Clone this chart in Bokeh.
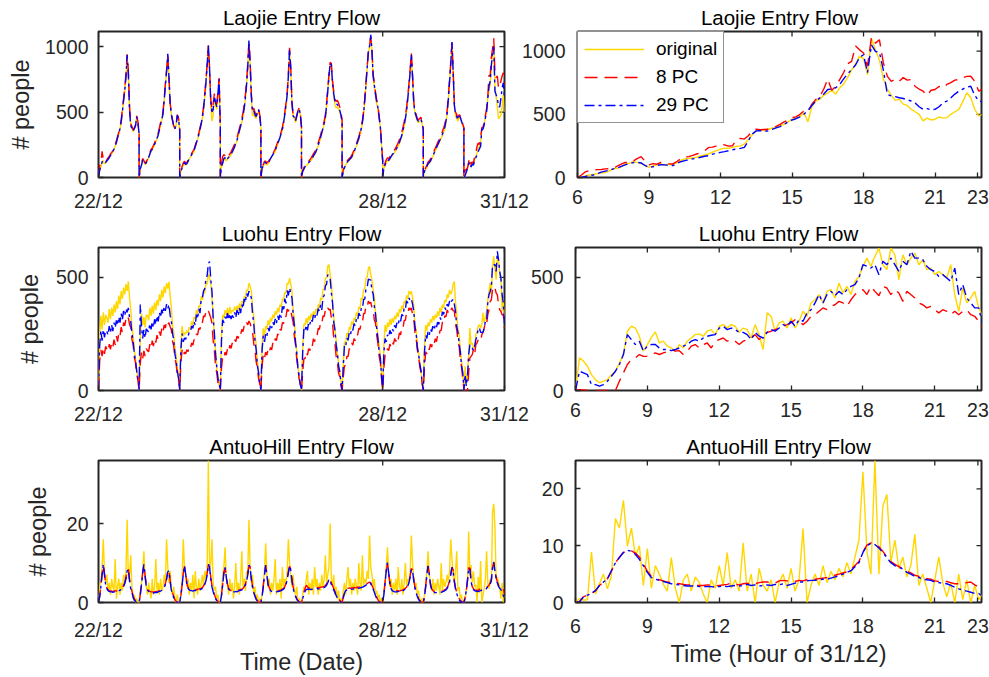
from bokeh.plotting import figure
from bokeh.layouts import column, row
from bokeh.models import Range1d, FixedTicker
from bokeh.embed import file_html
from bokeh.resources import INLINE

# ------------------------------------------------------------------ data
TITLES = ["Laojie Entry Flow", "Luohu Entry Flow", "AntuoHill Entry Flow"]
SERIES_NAMES = ["original", "8 PC", "29 PC"]
DATE_TICKS = [0, 7, 10]                     # day index (22/12 = day 0)
DATE_LABELS = ["22/12", "28/12", "31/12"]
HOUR_TICKS = [6, 9, 12, 15, 18, 21, 22.8]
HOUR_LABELS = ["6", "9", "12", "15", "18", "21", "23"]
YLABEL = "# people"
XTITLE_LEFT = "Time (Date)"
XTITLE_RIGHT = "Time (Hour of 31/12)"

# half-hourly samples 6:00 .. 23:00 for each of the 10 days (22/12 .. 31/12)
laojie_orig_days = [
    [0, 60, 80, 110, 130, 105, 112, 125, 140, 150, 170, 180, 195, 215, 240, 265, 300, 330, 370, 420, 500, 580, 660, 760, 920, 800, 520, 400, 380, 350, 370, 390, 460, 420, 340],
    [0, 70, 90, 130, 120, 100, 110, 130, 150, 175, 200, 210, 230, 250, 270, 295, 320, 360, 400, 440, 480, 580, 700, 800, 940, 760, 560, 480, 430, 390, 370, 400, 470, 450, 360],
    [0, 50, 70, 95, 110, 95, 100, 120, 140, 155, 170, 185, 200, 230, 260, 290, 320, 360, 400, 450, 520, 610, 720, 850, 1000, 820, 560, 430, 470, 600, 560, 520, 620, 740, 380],
    [0, 80, 100, 140, 150, 125, 140, 150, 160, 175, 190, 210, 230, 255, 280, 315, 350, 385, 420, 465, 520, 600, 700, 840, 1040, 860, 600, 470, 490, 460, 450, 480, 510, 470, 380],
    [0, 70, 85, 110, 110, 95, 105, 120, 140, 155, 170, 185, 200, 225, 250, 275, 300, 330, 360, 410, 470, 540, 620, 760, 970, 820, 560, 460, 450, 420, 460, 500, 520, 480, 380],
    [0, 45, 60, 80, 90, 100, 110, 120, 130, 145, 160, 175, 190, 215, 240, 270, 300, 335, 370, 405, 450, 540, 650, 760, 870, 850, 700, 620, 560, 530, 540, 520, 500, 470, 420],
    [0, 50, 70, 95, 110, 120, 130, 140, 150, 170, 190, 215, 240, 265, 290, 325, 360, 410, 480, 580, 700, 830, 950, 1000, 1080, 960, 760, 690, 620, 560, 520, 450, 380, 250, 120],
    [0, 70, 90, 115, 130, 125, 140, 155, 170, 180, 190, 205, 220, 240, 260, 285, 310, 350, 390, 440, 500, 590, 690, 800, 930, 760, 560, 490, 460, 430, 420, 430, 440, 410, 360],
    [0, 45, 60, 80, 100, 110, 120, 140, 160, 180, 200, 220, 240, 260, 280, 300, 320, 345, 370, 420, 480, 590, 720, 860, 1020, 800, 540, 470, 450, 430, 460, 450, 420, 400, 370],
    [0, 20, 37, 68, 107, 120, 80, 107, 102, 147, 160, 186, 225, 238, 264, 369, 382, 408, 461, 513, 605, 670, 709, 850, 940, 1010, 700, 620, 539, 448, 461, 474, 539, 631, 500],
]
laojie_8pc_days = [
    [0, 90, 110, 200, 140, 115, 120, 135, 150, 160, 180, 190, 205, 225, 255, 280, 315, 345, 385, 440, 520, 600, 690, 790, 940, 820, 540, 410, 390, 360, 380, 400, 470, 430, 350],
    [0, 80, 100, 145, 130, 110, 120, 140, 165, 190, 215, 225, 245, 265, 290, 315, 340, 380, 420, 460, 500, 600, 720, 820, 930, 770, 570, 490, 440, 395, 375, 405, 480, 455, 365],
    [0, 60, 85, 110, 125, 110, 115, 135, 155, 170, 185, 200, 215, 245, 275, 305, 340, 380, 420, 470, 545, 640, 745, 870, 1010, 840, 600, 520, 560, 640, 590, 560, 650, 760, 400],
    [0, 110, 160, 175, 165, 145, 155, 165, 180, 195, 215, 235, 255, 280, 305, 340, 375, 410, 450, 495, 550, 630, 730, 870, 1030, 880, 640, 520, 530, 500, 480, 500, 530, 480, 390],
    [0, 80, 100, 125, 125, 110, 120, 135, 155, 170, 185, 200, 220, 245, 270, 295, 320, 350, 385, 435, 500, 570, 650, 790, 990, 840, 580, 480, 470, 440, 475, 510, 530, 490, 390],
    [0, 55, 75, 95, 105, 115, 125, 135, 148, 165, 180, 195, 212, 238, 265, 295, 325, 360, 395, 430, 480, 570, 680, 790, 880, 870, 740, 660, 600, 580, 590, 570, 540, 500, 440],
    [0, 60, 85, 110, 125, 135, 145, 155, 168, 188, 210, 235, 260, 285, 312, 348, 385, 435, 505, 605, 725, 850, 965, 1010, 1070, 980, 790, 720, 650, 590, 550, 470, 395, 260, 130],
    [0, 85, 110, 135, 150, 145, 160, 175, 190, 200, 212, 228, 245, 268, 290, 318, 345, 385, 425, 475, 535, 625, 720, 830, 950, 780, 580, 510, 480, 450, 440, 450, 460, 425, 370],
    [0, 55, 75, 95, 118, 128, 140, 160, 182, 203, 224, 245, 266, 287, 308, 330, 352, 378, 405, 455, 515, 625, 750, 880, 1030, 820, 570, 500, 480, 455, 480, 470, 440, 410, 380],
    [0, 55, 63, 73, 120, 150, 100, 120, 107, 160, 186, 238, 264, 251, 304, 382, 382, 421, 474, 526, 618, 780, 775, 919, 985, 1063, 800, 762, 775, 683, 696, 736, 775, 801, 700],
]
laojie_29pc_days = [
    [0, 55, 85, 120, 125, 108, 115, 128, 138, 152, 168, 182, 198, 218, 245, 268, 305, 335, 375, 425, 505, 590, 670, 770, 935, 790, 510, 395, 375, 355, 375, 395, 465, 415, 335],
    [0, 65, 95, 135, 122, 105, 112, 133, 155, 180, 205, 215, 235, 255, 275, 300, 325, 365, 405, 445, 485, 590, 705, 810, 945, 765, 565, 485, 435, 392, 372, 402, 475, 452, 362],
    [0, 45, 75, 100, 115, 100, 105, 125, 145, 160, 175, 190, 205, 235, 265, 295, 330, 370, 410, 460, 530, 625, 730, 860, 1005, 830, 580, 500, 520, 620, 575, 540, 640, 750, 390],
    [0, 85, 110, 145, 152, 130, 142, 155, 165, 180, 196, 215, 236, 260, 287, 322, 358, 392, 428, 472, 528, 610, 710, 850, 1050, 870, 620, 500, 510, 480, 465, 490, 520, 475, 385],
    [0, 72, 90, 115, 115, 100, 108, 124, 145, 160, 175, 190, 207, 232, 257, 282, 308, 338, 370, 420, 482, 552, 632, 772, 980, 830, 570, 470, 460, 430, 468, 505, 525, 485, 385],
    [0, 48, 65, 85, 95, 105, 114, 124, 135, 150, 165, 180, 196, 221, 247, 277, 308, 343, 378, 413, 460, 552, 662, 772, 875, 860, 720, 640, 580, 555, 560, 540, 515, 480, 425],
    [0, 52, 75, 100, 115, 125, 135, 145, 156, 176, 197, 222, 248, 273, 299, 335, 372, 422, 492, 592, 712, 840, 958, 1005, 1090, 970, 775, 705, 635, 575, 535, 460, 388, 255, 125],
    [0, 75, 95, 120, 135, 130, 145, 160, 175, 185, 196, 212, 228, 248, 270, 296, 322, 362, 402, 452, 512, 602, 700, 810, 935, 770, 570, 500, 470, 440, 430, 440, 450, 415, 365],
    [0, 48, 65, 85, 105, 115, 126, 146, 167, 187, 208, 228, 248, 268, 288, 309, 330, 356, 382, 432, 494, 604, 732, 868, 1035, 810, 555, 485, 465, 442, 470, 460, 430, 405, 375],
    [0, 15, 42, 68, 100, 120, 80, 102, 94, 133, 152, 173, 199, 220, 238, 369, 369, 403, 455, 500, 605, 696, 735, 853, 971, 997, 657, 631, 605, 539, 539, 605, 683, 722, 600],
]

luohu_orig_days = [
    [0, 250, 330, 270, 345, 290, 335, 320, 300, 360, 315, 365, 330, 380, 345, 395, 360, 420, 380, 440, 405, 455, 425, 470, 440, 482, 410, 360, 280, 245, 180, 140, 95, 55, 10],
    [0, 220, 340, 290, 325, 280, 335, 330, 310, 365, 330, 375, 340, 390, 355, 400, 375, 425, 395, 445, 410, 460, 430, 475, 450, 480, 420, 365, 290, 255, 190, 155, 100, 60, 10],
    [0, 200, 285, 240, 255, 250, 265, 255, 280, 270, 305, 290, 325, 315, 355, 340, 375, 370, 415, 400, 435, 430, 470, 470, 515, 500, 470, 410, 340, 240, 175, 95, 60, 25, 5],
    [0, 250, 335, 320, 355, 335, 365, 330, 370, 340, 355, 350, 370, 355, 375, 350, 385, 365, 395, 385, 415, 410, 445, 440, 475, 460, 440, 370, 330, 250, 205, 135, 90, 40, 5],
    [0, 200, 275, 240, 285, 270, 310, 290, 320, 305, 335, 320, 350, 335, 365, 345, 380, 370, 405, 400, 435, 430, 475, 470, 497, 470, 440, 360, 310, 225, 175, 105, 60, 30, 5],
    [0, 180, 295, 290, 320, 295, 330, 310, 340, 320, 350, 330, 360, 345, 380, 365, 410, 400, 445, 450, 495, 500, 550, 556, 510, 480, 390, 330, 270, 225, 165, 125, 85, 40, 5],
    [0, 120, 215, 210, 255, 240, 280, 270, 305, 290, 320, 310, 345, 330, 370, 360, 410, 400, 445, 450, 495, 500, 540, 548, 510, 490, 445, 410, 345, 305, 235, 205, 155, 80, 5],
    [0, 200, 290, 260, 300, 280, 315, 290, 320, 300, 330, 315, 345, 325, 360, 345, 375, 360, 395, 385, 420, 405, 440, 425, 439, 410, 380, 290, 270, 200, 170, 125, 95, 40, 5],
    [0, 200, 290, 265, 300, 285, 315, 300, 330, 310, 335, 320, 350, 330, 365, 345, 380, 365, 400, 390, 425, 410, 445, 425, 439, 470, 482, 390, 340, 270, 255, 180, 135, 85, 10],
    [0, 107, 34, 70, 159, 276, 203, 210, 188, 188, 247, 262, 284, 291, 276, 291, 343, 299, 321, 350, 401, 438, 475, 424, 549, 593, 534, 490, 585, 578, 512, 497, 350, 409, 328],
]
luohu_8pc_days = [
    [0, 130, 180, 152, 190, 162, 195, 182, 172, 205, 182, 210, 192, 225, 202, 240, 216, 255, 240, 280, 256, 300, 286, 318, 306, 322, 292, 278, 226, 202, 146, 122, 72, 45, 5],
    [0, 120, 170, 142, 175, 152, 185, 176, 172, 205, 186, 220, 196, 230, 212, 245, 226, 260, 242, 275, 256, 290, 276, 307, 292, 300, 282, 268, 216, 198, 142, 118, 68, 45, 5],
    [0, 120, 180, 152, 170, 162, 180, 172, 195, 186, 210, 200, 225, 220, 250, 246, 275, 270, 305, 300, 330, 325, 350, 340, 351, 338, 322, 298, 222, 178, 108, 78, 35, 18, 0],
    [0, 100, 150, 142, 170, 156, 185, 172, 200, 186, 210, 200, 225, 216, 240, 230, 255, 246, 270, 260, 285, 276, 300, 290, 307, 296, 277, 262, 208, 182, 128, 102, 55, 30, 0],
    [0, 110, 160, 142, 170, 156, 180, 166, 190, 180, 210, 200, 230, 220, 250, 240, 270, 266, 300, 296, 330, 326, 360, 350, 365, 352, 327, 302, 238, 202, 138, 102, 50, 30, 0],
    [0, 80, 140, 142, 171, 156, 185, 176, 205, 196, 229, 216, 245, 240, 275, 270, 302, 296, 330, 326, 355, 346, 365, 356, 360, 322, 298, 232, 208, 152, 128, 78, 60, 20, 0],
    [0, 60, 110, 108, 150, 150, 185, 180, 210, 200, 229, 220, 250, 245, 275, 270, 302, 300, 340, 340, 375, 370, 395, 385, 390, 366, 358, 312, 298, 242, 208, 152, 126, 55, 0],
    [0, 100, 156, 152, 185, 176, 205, 192, 215, 204, 230, 216, 240, 226, 255, 246, 280, 276, 310, 310, 345, 340, 365, 356, 365, 336, 318, 256, 232, 178, 152, 108, 80, 30, 0],
    [0, 100, 171, 162, 190, 180, 205, 192, 215, 204, 229, 216, 245, 236, 265, 266, 302, 296, 330, 326, 355, 344, 362, 354, 365, 352, 352, 292, 268, 218, 196, 138, 106, 55, 5],
    [0, 0, 0, 0, 78, 144, 151, 159, 181, 159, 203, 210, 225, 225, 218, 247, 257, 276, 299, 291, 335, 357, 394, 401, 446, 438, 453, 431, 424, 379, 357, 350, 335, 335, 276],
]
luohu_29pc_days = [
    [0, 200, 265, 220, 270, 235, 265, 260, 245, 285, 255, 290, 262, 300, 278, 310, 288, 325, 300, 340, 312, 352, 332, 362, 345, 365, 322, 305, 252, 220, 162, 130, 85, 55, 10],
    [0, 380, 285, 230, 268, 232, 272, 265, 258, 296, 270, 305, 278, 315, 292, 330, 305, 345, 322, 358, 338, 372, 352, 382, 362, 380, 332, 308, 252, 222, 162, 132, 85, 55, 10],
    [0, 180, 252, 215, 232, 226, 242, 240, 258, 258, 285, 275, 305, 288, 335, 316, 360, 342, 405, 410, 440, 450, 492, 508, 560, 570, 492, 440, 322, 258, 162, 108, 55, 30, 5],
    [0, 220, 312, 300, 326, 310, 342, 312, 340, 316, 332, 322, 345, 322, 356, 330, 365, 342, 380, 362, 405, 388, 430, 415, 439, 425, 410, 340, 298, 222, 182, 112, 80, 30, 5],
    [0, 180, 242, 215, 252, 240, 276, 262, 292, 276, 302, 290, 316, 296, 330, 312, 342, 322, 372, 350, 406, 385, 442, 420, 453, 430, 410, 335, 290, 212, 168, 98, 65, 25, 5],
    [0, 170, 272, 262, 290, 266, 302, 292, 316, 304, 334, 316, 342, 332, 362, 350, 378, 356, 412, 420, 462, 470, 512, 505, 495, 432, 388, 302, 268, 202, 168, 108, 85, 35, 5],
    [0, 110, 202, 196, 232, 222, 256, 246, 274, 266, 296, 286, 316, 308, 342, 330, 362, 360, 402, 405, 452, 456, 492, 490, 488, 442, 428, 372, 338, 272, 232, 172, 145, 65, 5],
    [0, 170, 230, 215, 246, 236, 266, 250, 274, 262, 288, 276, 302, 292, 318, 306, 336, 330, 366, 360, 396, 386, 409, 398, 405, 382, 352, 282, 252, 192, 162, 118, 90, 35, 5],
    [0, 170, 245, 230, 262, 246, 272, 260, 284, 266, 290, 278, 302, 292, 322, 312, 348, 336, 366, 356, 382, 372, 395, 385, 398, 402, 382, 348, 282, 258, 208, 172, 108, 80, 10],
    [0, 70, 19, 63, 159, 203, 196, 188, 176, 196, 225, 240, 276, 276, 257, 257, 257, 276, 306, 306, 387, 424, 438, 460, 556, 556, 556, 526, 615, 578, 526, 497, 424, 387, 291],
]

antuo_orig_days = [
    [0, 4, 6, 9, 16, 8, 5, 7, 3, 5, 2, 6, 4, 3, 11, 1, 4, 6, 2, 5, 3, 7, 5, 8, 21, 6, 7, 12, 4, 1, 2, 0, 1, 0, 0],
    [0, 3, 5, 8, 13, 6, 4, 2, 5, 3, 1, 6, 2, 4, 11, 3, 5, 2, 6, 3, 4, 7, 5, 16, 9, 5, 8, 3, 2, 4, 1, 0, 2, 0, 0],
    [0, 2, 6, 16, 9, 7, 4, 6, 2, 5, 3, 7, 1, 8, 4, 2, 6, 3, 5, 7, 4, 8, 6, 9, 36, 8, 10, 16, 5, 3, 4, 1, 2, 0, 0],
    [0, 3, 7, 9, 14, 6, 5, 2, 6, 3, 5, 1, 4, 10, 3, 5, 2, 6, 13, 4, 6, 3, 8, 7, 21, 9, 5, 7, 2, 4, 1, 2, 0, 1, 0],
    [0, 2, 5, 8, 15, 7, 4, 6, 2, 5, 3, 6, 11, 2, 5, 3, 6, 1, 9, 4, 6, 5, 8, 16, 10, 6, 4, 7, 3, 2, 4, 0, 1, 0, 0],
    [0, 2, 4, 3, 6, 8, 2, 5, 3, 6, 2, 9, 4, 6, 2, 5, 3, 7, 4, 6, 12, 5, 7, 9, 20, 6, 4, 7, 2, 4, 1, 3, 0, 1, 0],
    [0, 3, 5, 2, 6, 9, 4, 6, 2, 5, 3, 6, 4, 2, 10, 5, 3, 12, 4, 6, 5, 8, 6, 17, 9, 7, 4, 6, 2, 3, 1, 2, 0, 1, 0],
    [0, 3, 6, 9, 14, 7, 4, 6, 2, 5, 3, 6, 2, 9, 4, 3, 6, 2, 5, 10, 4, 6, 5, 8, 17, 10, 6, 4, 5, 2, 3, 1, 0, 1, 0],
    [0, 2, 5, 8, 13, 7, 5, 3, 6, 2, 5, 3, 6, 4, 2, 10, 3, 6, 4, 5, 7, 5, 8, 16, 11, 7, 5, 8, 13, 3, 4, 1, 2, 0, 0],
    [0, 0.5, 3.3, 4.7, 18.0, 8.2, 9.5, 5.0, 7.9, 4.0, 4.5, 0, 6.5, 2.5, 10.5, 0, 2.0, 3.5, 6.0, 13.0, 5.0, 3.5, 6.0, 5.0, 23.0, 25.0, 19.0, 6.0, 6.5, 5.0, 4.0, 1.0, 5.0, 0, 1.5],
]
antuo_8pc_days = [
    [0.0, 1.5, 4.2, 7.2, 9.5, 7.3, 4.8, 3.7, 3.2, 3.0, 2.9, 2.9, 2.8, 2.9, 3.0, 2.9, 3.1, 3.2, 3.3, 3.5, 3.8, 4.3, 5.1, 6.4, 8.3, 8.6, 6.0, 3.8, 2.9, 1.7, 0.9, 0.5, 0.2, 0.0, 0.0],
    [0.0, 2.0, 4.6, 7.6, 9.5, 7.0, 4.5, 3.4, 3.0, 2.8, 2.7, 2.7, 2.6, 2.7, 2.8, 2.7, 2.9, 3.0, 3.1, 3.3, 3.6, 4.1, 4.8, 6.1, 8.0, 8.3, 5.6, 3.5, 2.5, 1.5, 0.7, 0.3, 0.1, 0.0, 0.0],
    [0.0, 1.8, 4.3, 7.3, 9.2, 7.4, 4.9, 3.8, 3.4, 3.2, 3.2, 3.1, 3.2, 3.3, 3.2, 3.4, 3.4, 3.5, 3.6, 3.8, 4.2, 4.9, 5.8, 7.3, 9.6, 9.2, 6.4, 4.3, 3.1, 2.1, 1.2, 0.7, 0.3, 0.0, 0.0],
    [0.0, 1.8, 4.6, 7.6, 8.8, 6.8, 4.6, 3.6, 3.2, 3.0, 2.9, 2.9, 2.9, 3.0, 2.9, 3.1, 3.2, 3.3, 3.4, 3.6, 4.0, 4.7, 5.7, 7.3, 9.4, 9.0, 6.2, 4.1, 2.9, 1.9, 1.0, 0.5, 0.2, 0.0, 0.0],
    [0.0, 1.6, 4.1, 7.1, 9.4, 7.3, 4.8, 3.7, 3.2, 3.0, 2.9, 2.9, 2.8, 2.9, 3.0, 3.0, 3.1, 3.2, 3.4, 3.6, 4.0, 4.8, 6.1, 7.8, 9.2, 8.5, 5.9, 3.9, 2.8, 1.8, 1.0, 0.5, 0.2, 0.0, 0.0],
    [0.0, 1.2, 2.6, 3.6, 4.4, 4.0, 3.6, 3.7, 3.6, 3.7, 3.7, 3.8, 3.7, 3.8, 3.7, 3.8, 3.9, 3.9, 4.0, 4.1, 4.3, 4.7, 5.3, 6.0, 5.7, 4.9, 4.3, 3.5, 2.8, 2.1, 1.5, 1.0, 0.5, 0.2, 0.0],
    [0.0, 1.4, 2.7, 3.3, 3.5, 3.6, 3.7, 3.6, 3.7, 3.7, 3.8, 3.7, 3.8, 3.9, 3.9, 4.0, 4.1, 4.2, 4.3, 4.5, 4.6, 4.8, 5.0, 5.2, 5.0, 4.3, 3.7, 2.9, 2.0, 1.3, 0.7, 0.3, 0.1, 0.0, 0.0],
    [0.0, 2.0, 5.1, 8.1, 9.9, 7.7, 5.0, 3.7, 3.2, 3.0, 2.9, 2.9, 2.9, 3.0, 2.9, 3.0, 3.1, 3.2, 3.4, 3.6, 3.9, 4.5, 5.3, 6.8, 8.6, 8.3, 5.9, 3.9, 2.8, 1.8, 1.0, 0.5, 0.2, 0.0, 0.0],
    [0.0, 1.5, 4.1, 7.1, 9.2, 7.4, 4.7, 3.5, 3.0, 2.8, 2.7, 2.7, 2.7, 2.8, 2.7, 2.8, 2.9, 3.0, 3.2, 3.4, 3.8, 4.5, 5.5, 7.3, 9.0, 8.3, 5.6, 3.7, 2.6, 1.7, 1.0, 0.6, 0.3, 0.1, 0.0],
    [0.0, 1.3, 3.0, 5.6, 8.8, 8.7, 5.5, 4.0, 3.5, 3.2, 3.0, 3.1, 3.0, 3.4, 3.3, 3.3, 3.6, 3.8, 3.6, 3.8, 4.1, 4.4, 5.0, 5.8, 8.9, 10.3, 8.0, 6.3, 5.2, 4.3, 3.8, 3.7, 3.3, 3.6, 2.1],
]
antuo_29pc_days = [
    [0.0, 1.5, 4.0, 7.0, 9.7, 7.0, 4.5, 3.5, 3.0, 2.8, 2.7, 2.7, 2.6, 2.7, 2.8, 2.7, 2.9, 3.0, 3.1, 3.3, 3.6, 4.0, 4.8, 6.0, 8.0, 8.4, 5.5, 3.4, 2.5, 1.3, 0.6, 0.3, 0.1, 0.0, 0.0],
    [0.0, 2.0, 4.5, 7.5, 9.7, 6.8, 4.2, 3.2, 2.8, 2.6, 2.5, 2.5, 2.4, 2.5, 2.6, 2.5, 2.7, 2.8, 2.9, 3.1, 3.4, 3.8, 4.5, 5.8, 7.8, 8.0, 5.2, 3.2, 2.2, 1.2, 0.5, 0.2, 0.0, 0.0, 0.0],
    [0.0, 1.8, 4.2, 7.2, 9.3, 7.2, 4.6, 3.6, 3.2, 3.0, 3.0, 2.9, 3.0, 3.1, 3.0, 3.2, 3.2, 3.3, 3.4, 3.6, 4.0, 4.6, 5.5, 7.0, 9.7, 9.0, 6.0, 4.0, 2.8, 1.8, 1.0, 0.5, 0.2, 0.0, 0.0],
    [0.0, 1.8, 4.5, 7.5, 8.9, 6.5, 4.3, 3.4, 3.0, 2.8, 2.7, 2.7, 2.7, 2.8, 2.7, 2.9, 3.0, 3.1, 3.2, 3.4, 3.8, 4.4, 5.4, 7.0, 9.5, 8.8, 5.8, 3.8, 2.6, 1.6, 0.8, 0.4, 0.2, 0.0, 0.0],
    [0.0, 1.6, 4.0, 7.0, 9.5, 7.0, 4.5, 3.5, 3.0, 2.8, 2.7, 2.7, 2.6, 2.7, 2.8, 2.8, 2.9, 3.0, 3.2, 3.4, 3.8, 4.5, 5.8, 7.5, 9.3, 8.2, 5.5, 3.6, 2.5, 1.5, 0.8, 0.4, 0.1, 0.0, 0.0],
    [0.0, 1.0, 2.0, 2.8, 3.3, 3.4, 3.3, 3.4, 3.3, 3.4, 3.4, 3.5, 3.4, 3.5, 3.4, 3.5, 3.6, 3.6, 3.7, 3.8, 4.0, 4.4, 5.0, 5.9, 5.5, 4.6, 4.0, 3.2, 2.5, 1.8, 1.2, 0.8, 0.4, 0.1, 0.0],
    [0.0, 1.2, 2.4, 3.0, 3.2, 3.3, 3.4, 3.3, 3.4, 3.4, 3.5, 3.4, 3.5, 3.6, 3.6, 3.7, 3.8, 3.9, 4.0, 4.2, 4.4, 4.6, 4.9, 5.1, 4.8, 4.0, 3.4, 2.6, 1.7, 1.0, 0.5, 0.2, 0.0, 0.0, 0.0],
    [0.0, 2.0, 5.0, 8.0, 10.1, 7.5, 4.8, 3.5, 3.0, 2.8, 2.7, 2.7, 2.7, 2.8, 2.7, 2.8, 2.9, 3.0, 3.2, 3.4, 3.7, 4.2, 5.0, 6.5, 8.4, 8.0, 5.5, 3.6, 2.5, 1.5, 0.8, 0.4, 0.1, 0.0, 0.0],
    [0.0, 1.5, 4.0, 7.0, 9.3, 7.2, 4.5, 3.3, 2.8, 2.6, 2.5, 2.5, 2.5, 2.6, 2.5, 2.6, 2.7, 2.8, 3.0, 3.2, 3.6, 4.2, 5.2, 7.0, 8.9, 8.0, 5.2, 3.4, 2.3, 1.4, 0.7, 0.3, 0.1, 0.0, 0.0],
    [0.0, 1.3, 3.0, 5.6, 8.8, 8.5, 5.3, 3.9, 3.3, 3.0, 2.9, 2.8, 2.8, 2.9, 3.0, 3.1, 3.1, 3.1, 3.2, 3.6, 3.9, 4.1, 4.7, 5.6, 8.8, 10.2, 7.9, 6.2, 5.0, 4.1, 3.6, 3.3, 2.4, 1.8, 1.0],
]

# 10-minute samples 6:00 .. 23:00 on 31/12
laojie_orig_31 = [
    0, 5, 12, 20, 25, 30, 37, 40, 52, 68, 72, 85, 107, 112, 125, 120, 110, 95,
    80, 92, 100, 107, 98, 104, 102, 118, 135, 147, 150, 155, 160, 170, 178, 186, 200, 212,
    225, 232, 230, 238, 245, 250, 264, 300, 340, 369, 375, 372, 382, 390, 395, 408, 420, 440,
    461, 470, 480, 513, 440, 560, 605, 620, 650, 670, 690, 660, 709, 740, 790, 850, 900, 960,
    940, 814, 1100, 1010, 930, 780, 700, 650, 610, 620, 580, 570, 539, 520, 500, 448, 470, 455,
    461, 480, 470, 474, 500, 520, 539, 600, 670, 631, 540, 487, 500]
laojie_8pc_31 = [
    0, 20, 45, 55, 60, 62, 63, 68, 70, 73, 90, 105, 120, 118, 130, 150, 165, 130,
    100, 110, 105, 120, 112, 108, 107, 125, 150, 160, 165, 175, 186, 195, 210, 238, 240, 250,
    264, 258, 248, 251, 300, 310, 304, 330, 370, 382, 378, 380, 382, 395, 405, 421, 440, 455,
    474, 480, 500, 526, 520, 580, 618, 640, 700, 780, 690, 720, 775, 830, 900, 919, 1040, 1010,
    985, 880, 1110, 1063, 1090, 906, 800, 760, 780, 762, 790, 770, 775, 720, 700, 683, 650, 690,
    696, 720, 710, 736, 750, 770, 775, 790, 800, 801, 760, 683, 700]
laojie_29pc_31 = [
    0, 3, 8, 15, 20, 30, 42, 50, 58, 68, 75, 88, 100, 110, 118, 120, 115, 95,
    80, 85, 95, 102, 100, 96, 94, 110, 125, 133, 140, 147, 152, 160, 168, 173, 185, 192,
    199, 205, 212, 220, 225, 230, 238, 290, 345, 369, 370, 365, 369, 380, 392, 403, 420, 440,
    455, 465, 480, 500, 530, 570, 605, 630, 660, 696, 700, 710, 735, 780, 820, 853, 890, 950,
    971, 830, 1050, 997, 990, 850, 657, 645, 640, 631, 625, 615, 605, 590, 560, 539, 545, 535,
    539, 560, 590, 605, 630, 660, 683, 700, 715, 722, 650, 605, 600]

luohu_orig_31 = [
    0, 144, 130, 107, 70, 48, 34, 41, 48, 70, 85, 122, 159, 262, 284, 276, 240, 174,
    203, 235, 259, 210, 218, 196, 188, 174, 203, 188, 218, 232, 247, 250, 240, 262, 269, 247,
    284, 291, 276, 291, 284, 257, 276, 269, 232, 291, 247, 181, 343, 328, 262, 299, 306, 276,
    321, 276, 306, 350, 328, 387, 401, 424, 387, 438, 446, 409, 475, 431, 460, 424, 482, 504,
    549, 585, 549, 593, 629, 556, 534, 629, 600, 490, 600, 556, 585, 607, 556, 578, 534, 541,
    512, 526, 512, 497, 556, 424, 350, 453, 387, 409, 438, 365, 328]
luohu_8pc_31 = [
    0, 4, 2, 0, 0, 0, 0, 0, 0, 0, 0, 41, 78, 115, 137, 144, 159, 151,
    151, 159, 166, 159, 166, 171, 181, 174, 176, 159, 174, 196, 203, 188, 203, 210, 188, 218,
    225, 232, 218, 225, 218, 203, 218, 225, 232, 247, 225, 247, 257, 262, 269, 276, 284, 291,
    299, 313, 306, 291, 306, 328, 335, 350, 365, 357, 372, 379, 394, 387, 372, 401, 424, 438,
    446, 424, 460, 438, 419, 460, 453, 424, 446, 431, 394, 438, 424, 409, 387, 379, 365, 372,
    357, 343, 357, 350, 335, 350, 335, 350, 357, 335, 328, 306, 276]
luohu_29pc_31 = [
    0, 85, 78, 70, 26, 26, 19, 26, 41, 63, 85, 115, 159, 247, 225, 203, 218, 174,
    196, 203, 203, 188, 181, 181, 176, 181, 188, 196, 203, 218, 225, 218, 232, 240, 244, 247,
    276, 284, 269, 276, 269, 257, 257, 247, 225, 257, 240, 232, 257, 269, 262, 276, 291, 284,
    306, 284, 313, 306, 343, 357, 387, 424, 387, 424, 438, 419, 438, 424, 446, 460, 468, 497,
    556, 549, 541, 556, 512, 571, 556, 585, 556, 526, 571, 556, 615, 585, 585, 578, 549, 534,
    526, 504, 512, 497, 482, 541, 424, 468, 409, 387, 365, 365, 291]

antuo_orig_31 = [
    0, 0.7, 0.4, 0.5, 8.9, 1.5, 3.3, 5.0, 2.4, 4.7, 14.8, 13.1, 18.0, 9.9, 13.1, 8.2, 10.0, 3.0,
    9.5, 2.5, 6.5, 5.0, 3.2, 2.0, 7.9, 2.5, 0.0, 4.0, 5.0, 2.0, 4.5, 3.5, 1.5, 0.0, 4.0, 2.5,
    6.5, 3.0, 8.8, 2.5, 4.0, 2.0, 10.5, 2.0, 5.0, 0.0, 6.0, 3.0, 2.0, 4.0, 0.0, 3.5, 5.0, 2.5,
    6.0, 2.0, 4.0, 13.0, 0.0, 3.0, 5.0, 3.0, 6.5, 3.5, 5.5, 4.0, 6.0, 4.5, 7.0, 5.0, 8.0, 11.0,
    23.0, 9.0, 5.0, 25.0, 5.0, 17.0, 19.0, 7.0, 11.0, 6.0, 8.0, 4.5, 6.5, 12.0, 3.0, 5.0, 2.5, 0.0,
    4.0, 8.0, 3.5, 1.0, 3.5, 0.0, 5.0, 0.5, 4.0, 0.0, 3.0, 0.5, 1.5]
antuo_8pc_31 = [
    0, 0.2, 1.0, 1.3, 1.6, 2.1, 3.0, 3.6, 4.2, 5.6, 7.0, 8.0, 8.8, 9.2, 9.1, 8.7, 8.0, 6.8,
    5.5, 4.6, 4.3, 4.0, 3.8, 3.6, 3.5, 3.4, 3.3, 3.2, 3.1, 3.1, 3.0, 3.0, 3.0, 3.1, 3.0, 2.9,
    3.0, 3.1, 3.2, 3.4, 3.2, 3.1, 3.3, 3.4, 3.2, 3.3, 3.5, 3.6, 3.6, 3.5, 3.4, 3.8, 3.9, 3.8,
    3.6, 3.7, 3.9, 3.8, 4.0, 4.1, 4.1, 4.2, 4.3, 4.4, 4.6, 4.8, 5.0, 5.2, 5.4, 5.8, 6.5, 7.2,
    8.9, 10.1, 10.5, 10.3, 9.8, 9.0, 8.0, 7.2, 6.7, 6.3, 6.0, 5.5, 5.2, 4.8, 4.6, 4.3, 4.2, 4.1,
    3.8, 3.7, 3.8, 3.7, 3.5, 3.3, 3.3, 3.4, 3.5, 3.6, 3.1, 2.7, 2.1]
antuo_29pc_31 = [
    0, 0.1, 1.0, 1.3, 1.6, 2.1, 3.0, 3.6, 4.1, 5.6, 7.0, 7.9, 8.8, 9.2, 9.0, 8.5, 7.6, 6.5,
    5.3, 4.4, 4.1, 3.9, 3.7, 3.5, 3.3, 3.2, 3.1, 3.0, 2.9, 2.9, 2.9, 2.8, 2.8, 2.8, 2.8, 2.7,
    2.8, 2.9, 2.8, 2.9, 3.0, 2.9, 3.0, 3.2, 3.0, 3.1, 2.9, 3.0, 3.1, 3.0, 3.2, 3.1, 3.3, 3.0,
    3.2, 3.4, 3.6, 3.6, 3.8, 3.9, 3.9, 4.0, 4.1, 4.1, 4.3, 4.5, 4.7, 5.0, 5.3, 5.6, 6.3, 7.0,
    8.8, 10.0, 10.4, 10.2, 9.6, 8.8, 7.9, 7.0, 6.5, 6.2, 5.9, 5.3, 5.0, 4.6, 4.4, 4.1, 4.0, 3.9,
    3.6, 3.5, 3.4, 3.3, 3.0, 2.7, 2.4, 2.2, 2.0, 1.8, 1.6, 1.6, 1.0]

# y-axis extents and ticks per station
Y_MAX_LEFT = [1115, 632, 36]
Y_MAX_RIGHT = [1155, 632, 25]
Y_TICKS_LEFT = [[0, 500, 1000], [0, 500], [0, 20]]
Y_TICKS_RIGHT = [[0, 500, 1000], [0, 500], [0, 10, 20]]

# ------------------------------------------------------------------ style
FONT = "Liberation Sans"
INK = "#262626"
TICK_FS = "19.5px"
TITLE_FS = "20.5px"
LABEL_FS = "23.5px"
LEGEND_FS = "19px"
COLORS = ["#FFD700", "#FF0000", "#0000FF"]
DASHES = ["solid", "13 7", "10 4 3 4"]
LINE_W = 1.4
TICK_LEN = 5

ROW_H = [217, 213, 247]
ROW_TOP = [31, 29, 29]
ROW_BOTTOM = [40, 40, 73]
YLAB_STANDOFF = [8, 10, 13]
XTICK_STANDOFF = [12, 12, 16]


def days_xy(days):
    xs, ys = [], []
    for d, vals in enumerate(days):
        n = len(vals)
        for i, v in enumerate(vals):
            xs.append(d + i / (n - 1))
            ys.append(v)
    return xs, ys


def hours_xy(vals):
    n = len(vals)
    return [6 + 17 * i / (n - 1) for i in range(n)], list(vals)


def style_axis(ax, standoff):
    ax.axis_line_color = None
    ax.major_tick_in = TICK_LEN
    ax.major_tick_out = 0
    ax.major_tick_line_color = INK
    ax.major_tick_line_width = 1.3
    ax.minor_tick_line_color = None
    ax.major_label_text_font = FONT
    ax.major_label_text_font_size = TICK_FS
    ax.major_label_text_color = INK
    ax.major_label_standoff = standoff


def make_panel(r, left, series, legend=False):
    H, top, bottom = ROW_H[r], ROW_TOP[r], ROW_BOTTOM[r]
    if left:
        W, mbl, mbr = 532, 98, 28
        xr = (0, 10)
        xticks, xlabels = DATE_TICKS, DATE_LABELS
        ymax, yticks = Y_MAX_LEFT[r], Y_TICKS_LEFT[r]
        ystand = 10
        xtitle = XTITLE_LEFT
    else:
        W, mbl, mbr = 470, 56, 8
        xr = (6, 22.95)
        xticks, xlabels = HOUR_TICKS, HOUR_LABELS
        ymax, yticks = Y_MAX_RIGHT[r], Y_TICKS_RIGHT[r]
        ystand = 12
        xtitle = XTITLE_RIGHT
    fw = W - mbl - mbr
    fh = H - top - bottom
    p = figure(width=W, height=H, x_range=Range1d(*xr), y_range=Range1d(0, ymax),
               output_backend="svg", toolbar_location=None, tools="",
               min_border_left=mbl, min_border_right=mbr,
               min_border_top=top, min_border_bottom=bottom)
    if not left:
        p.margin = (0, 0, 0, -13)
    p.border_fill_color = None
    p.background_fill_color = "white"
    p.outline_line_color = INK
    p.outline_line_width = 2
    p.xgrid.visible = False
    p.ygrid.visible = False

    p.title.text = TITLES[r]
    p.title.align = "center"
    p.title.text_font = FONT
    p.title.text_font_size = TITLE_FS
    p.title.text_font_style = "normal"
    p.title.text_color = "black"
    p.title.standoff = 5

    xa, ya = p.xaxis[0], p.yaxis[0]
    xa.ticker = FixedTicker(ticks=xticks)
    xa.major_label_overrides = {t: l for t, l in zip(xticks, xlabels)}
    ya.ticker = FixedTicker(ticks=yticks)
    style_axis(xa, XTICK_STANDOFF[r])
    style_axis(ya, ystand)

    if left:
        ya.axis_label = YLABEL
        ya.axis_label_text_font = FONT
        ya.axis_label_text_font_size = LABEL_FS
        ya.axis_label_text_font_style = "normal"
        ya.axis_label_text_color = INK
        ya.axis_label_standoff = YLAB_STANDOFF[r]
    if r == 2:
        xa.axis_label = xtitle
        xa.axis_label_text_font = FONT
        xa.axis_label_text_font_size = LABEL_FS
        xa.axis_label_text_font_style = "normal"
        xa.axis_label_text_color = INK
        xa.axis_label_standoff = 5

    # mirrored tick marks on the top and right edges of the box
    dy = TICK_LEN * ymax / fh
    dx = TICK_LEN * (xr[1] - xr[0]) / fw
    p.segment(x0=xticks, x1=xticks, y0=[ymax] * len(xticks), y1=[ymax - dy] * len(xticks),
              line_color=INK, line_width=1.3)
    p.segment(x0=[xr[1]] * len(yticks), x1=[xr[1] - dx] * len(yticks), y0=yticks, y1=yticks,
              line_color=INK, line_width=1.3)

    for k, (xs, ys) in enumerate(series):
        kw = dict(line_color=COLORS[k], line_width=LINE_W, line_dash=DASHES[k])
        if legend:
            kw["legend_label"] = SERIES_NAMES[k]
        p.line(xs, ys, **kw)

    if legend:
        lg = p.legend[0]
        lg.location = "top_left"
        lg.margin = 0
        lg.padding = 6
        lg.spacing = 6
        lg.label_height = 20
        lg.glyph_height = 20
        lg.glyph_width = 60
        lg.label_standoff = 12
        lg.border_line_color = INK
        lg.border_line_width = 1.3
        lg.background_fill_color = "white"
        lg.background_fill_alpha = 1.0
        lg.label_text_font = FONT
        lg.label_text_font_size = LEGEND_FS
        lg.label_text_color = "black"
    return p


left_sets = [
    [laojie_orig_days, laojie_8pc_days, laojie_29pc_days],
    [luohu_orig_days, luohu_8pc_days, luohu_29pc_days],
    [antuo_orig_days, antuo_8pc_days, antuo_29pc_days],
]
right_sets = [
    [laojie_orig_31, laojie_8pc_31, laojie_29pc_31],
    [luohu_orig_31, luohu_8pc_31, luohu_29pc_31],
    [antuo_orig_31, antuo_8pc_31, antuo_29pc_31],
]

rows = []
for r in range(3):
    lp = make_panel(r, True, [days_xy(s) for s in left_sets[r]])
    rp = make_panel(r, False, [hours_xy(s) for s in right_sets[r]], legend=(r == 0))
    rows.append(row(lp, rp))

layout = column(*rows)
open("out.html", "w").write(file_html(layout, INLINE))
